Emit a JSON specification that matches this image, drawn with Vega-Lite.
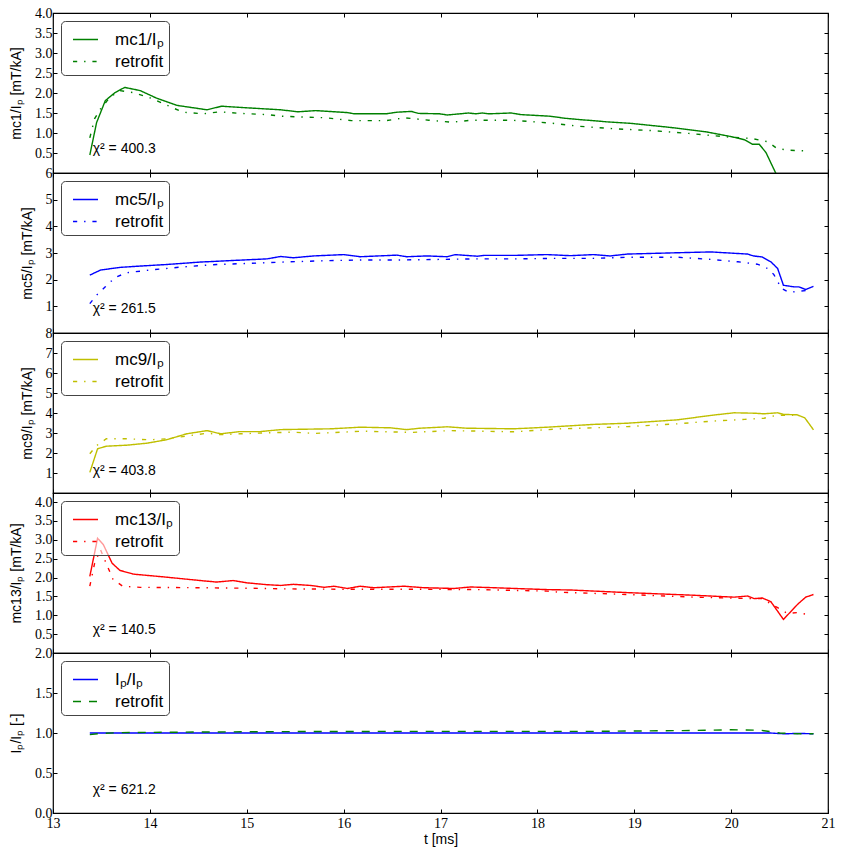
{
  "$schema": "https://vega.github.io/schema/vega-lite/v6.json",
  "background": "white",
  "padding": {"left": 8, "top": 5, "right": 12, "bottom": 10},
  "spacing": 0,
  "bounds": "flush",
  "resolve": {"scale": {"color": "independent", "strokeDash": "independent"}, "legend": {"color": "independent", "strokeDash": "independent"}},
  "config": {
    "view": {"stroke": "#000", "strokeWidth": 1.2},
    "axis": {"domain": false, "grid": false, "tickColor": "#000", "tickWidth": 1, "tickSize": -4, "labelFont": "Liberation Serif", "labelFontSize": 14, "labelColor": "#000", "titleFont": "Liberation Sans", "titleFontSize": 14, "titleFontWeight": "normal", "titleColor": "#000", "labelFlush": false, "labelOverlap": false, "labelPadding": 5, "titlePadding": 11},
    "legend": {"orient": "top-left", "offset": 8, "title": null, "strokeColor": "#444", "fillColor": "rgba(255,255,255,0.6)", "cornerRadius": 4, "padding": 5, "symbolType": "stroke", "symbolSize": 625, "symbolStrokeWidth": 1.4, "symbolOffset": 6, "labelFont": "Liberation Sans", "labelFontSize": 17, "labelColor": "#000", "labelOffset": 16, "rowPadding": 0}
  },
  "vconcat": [
    {
      "width": 775, "height": 160,
      "resolve": {"axis": {"x": "independent", "y": "independent"}},
      "layer": [
        {
          "data": {"values": [
            {"t":13.38,"v":0.45,"s":"mc1/Iₚ"},{"t":13.45,"v":1.26,"s":"mc1/Iₚ"},{"t":13.54,"v":1.81,"s":"mc1/Iₚ"},{"t":13.64,"v":2.01,"s":"mc1/Iₚ"},{"t":13.74,"v":2.14,"s":"mc1/Iₚ"},{"t":13.9,"v":2.06,"s":"mc1/Iₚ"},{"t":14.07,"v":1.87,"s":"mc1/Iₚ"},{"t":14.28,"v":1.69,"s":"mc1/Iₚ"},{"t":14.45,"v":1.63,"s":"mc1/Iₚ"},{"t":14.59,"v":1.58,"s":"mc1/Iₚ"},{"t":14.74,"v":1.67,"s":"mc1/Iₚ"},{"t":14.93,"v":1.64,"s":"mc1/Iₚ"},{"t":15.21,"v":1.6,"s":"mc1/Iₚ"},{"t":15.35,"v":1.58,"s":"mc1/Iₚ"},{"t":15.53,"v":1.53,"s":"mc1/Iₚ"},{"t":15.71,"v":1.56,"s":"mc1/Iₚ"},{"t":16.04,"v":1.51,"s":"mc1/Iₚ"},{"t":16.11,"v":1.48,"s":"mc1/Iₚ"},{"t":16.44,"v":1.48,"s":"mc1/Iₚ"},{"t":16.55,"v":1.52,"s":"mc1/Iₚ"},{"t":16.7,"v":1.54,"s":"mc1/Iₚ"},{"t":16.77,"v":1.49,"s":"mc1/Iₚ"},{"t":16.99,"v":1.48,"s":"mc1/Iₚ"},{"t":17.07,"v":1.45,"s":"mc1/Iₚ"},{"t":17.29,"v":1.5,"s":"mc1/Iₚ"},{"t":17.36,"v":1.48,"s":"mc1/Iₚ"},{"t":17.43,"v":1.5,"s":"mc1/Iₚ"},{"t":17.5,"v":1.48,"s":"mc1/Iₚ"},{"t":17.73,"v":1.5,"s":"mc1/Iₚ"},{"t":17.83,"v":1.46,"s":"mc1/Iₚ"},{"t":18.13,"v":1.42,"s":"mc1/Iₚ"},{"t":18.28,"v":1.37,"s":"mc1/Iₚ"},{"t":18.46,"v":1.33,"s":"mc1/Iₚ"},{"t":18.57,"v":1.31,"s":"mc1/Iₚ"},{"t":18.71,"v":1.28,"s":"mc1/Iₚ"},{"t":18.97,"v":1.24,"s":"mc1/Iₚ"},{"t":19.37,"v":1.14,"s":"mc1/Iₚ"},{"t":19.74,"v":1.03,"s":"mc1/Iₚ"},{"t":20.0,"v":0.91,"s":"mc1/Iₚ"},{"t":20.14,"v":0.83,"s":"mc1/Iₚ"},{"t":20.22,"v":0.72,"s":"mc1/Iₚ"},{"t":20.29,"v":0.72,"s":"mc1/Iₚ"},{"t":20.36,"v":0.51,"s":"mc1/Iₚ"},{"t":20.46,"v":0.0,"s":"mc1/Iₚ"},{"t":20.5,"v":-0.3,"s":"mc1/Iₚ"},
            {"t":13.38,"v":0.88,"s":"retrofit"},{"t":13.43,"v":1.36,"s":"retrofit"},{"t":13.49,"v":1.6,"s":"retrofit"},{"t":13.59,"v":1.9,"s":"retrofit"},{"t":13.69,"v":2.06,"s":"retrofit"},{"t":13.83,"v":2.01,"s":"retrofit"},{"t":14.0,"v":1.88,"s":"retrofit"},{"t":14.18,"v":1.69,"s":"retrofit"},{"t":14.34,"v":1.52,"s":"retrofit"},{"t":14.55,"v":1.48,"s":"retrofit"},{"t":14.72,"v":1.53,"s":"retrofit"},{"t":14.93,"v":1.49,"s":"retrofit"},{"t":15.21,"v":1.46,"s":"retrofit"},{"t":15.35,"v":1.42,"s":"retrofit"},{"t":15.82,"v":1.38,"s":"retrofit"},{"t":16.08,"v":1.31,"s":"retrofit"},{"t":16.44,"v":1.31,"s":"retrofit"},{"t":16.63,"v":1.38,"s":"retrofit"},{"t":16.88,"v":1.32,"s":"retrofit"},{"t":17.12,"v":1.27,"s":"retrofit"},{"t":17.32,"v":1.32,"s":"retrofit"},{"t":17.73,"v":1.32,"s":"retrofit"},{"t":18.13,"v":1.25,"s":"retrofit"},{"t":18.42,"v":1.17,"s":"retrofit"},{"t":18.83,"v":1.1,"s":"retrofit"},{"t":19.19,"v":1.06,"s":"retrofit"},{"t":19.56,"v":0.99,"s":"retrofit"},{"t":19.92,"v":0.91,"s":"retrofit"},{"t":20.22,"v":0.86,"s":"retrofit"},{"t":20.38,"v":0.78,"s":"retrofit"},{"t":20.47,"v":0.62,"s":"retrofit"},{"t":20.58,"v":0.57,"s":"retrofit"},{"t":20.8,"v":0.55,"s":"retrofit"}
          ]},
          "mark": {"type": "line", "strokeWidth": 1.4, "clip": true},
          "encoding": {
            "x": {"field": "t", "type": "quantitative", "scale": {"domain": [13, 21], "nice": false, "zero": false}, "axis": {"orient": "bottom", "values": [13,14,15,16,17,18,19,20,21], "labels": false, "title": null}},
            "y": {"field": "v", "type": "quantitative", "scale": {"domain": [0, 4], "nice": false}, "axis": {"orient": "left", "values": [0.5,1,1.5,2,2.5,3,3.5,4], "format": ".1f", "title": "mc1/Iₚ [mT/kA]"}},
            "color": {"field": "s", "type": "nominal", "scale": {"domain": ["mc1/Iₚ", "retrofit"], "range": ["#008000", "#008000"]}},
            "strokeDash": {"field": "s", "type": "nominal", "scale": {"domain": ["mc1/Iₚ", "retrofit"], "range": [[1, 0], [4.2, 6.9, 1.4, 6.9]]}}
          }
        },
        {
          "data": {"values": [{"t": 13.41, "v": 0.59, "label": "χ² = 400.3"}]},
          "mark": {"type": "text", "align": "left", "baseline": "middle", "font": "Liberation Sans", "fontSize": 14, "color": "#000"},
          "encoding": {
            "x": {"field": "t", "type": "quantitative", "scale": {"domain": [13, 21], "nice": false, "zero": false}, "axis": {"orient": "top", "values": [13,14,15,16,17,18,19,20,21], "labels": false, "title": null}},
            "y": {"field": "v", "type": "quantitative", "scale": {"domain": [0, 4], "nice": false}, "axis": {"orient": "right", "values": [0.5,1,1.5,2,2.5,3,3.5,4], "labels": false, "title": null}},
            "text": {"field": "label"}
          }
        }
      ]
    },
    {
      "width": 775, "height": 160,
      "resolve": {"axis": {"x": "independent", "y": "independent"}},
      "layer": [
        {
          "data": {"values": [
            {"t":13.38,"v":2.17,"s":"mc5/Iₚ"},{"t":13.49,"v":2.36,"s":"mc5/Iₚ"},{"t":13.69,"v":2.46,"s":"mc5/Iₚ"},{"t":13.9,"v":2.51,"s":"mc5/Iₚ"},{"t":14.18,"v":2.57,"s":"mc5/Iₚ"},{"t":14.52,"v":2.66,"s":"mc5/Iₚ"},{"t":14.86,"v":2.72,"s":"mc5/Iₚ"},{"t":15.21,"v":2.78,"s":"mc5/Iₚ"},{"t":15.35,"v":2.87,"s":"mc5/Iₚ"},{"t":15.48,"v":2.82,"s":"mc5/Iₚ"},{"t":15.69,"v":2.89,"s":"mc5/Iₚ"},{"t":16.0,"v":2.94,"s":"mc5/Iₚ"},{"t":16.17,"v":2.86,"s":"mc5/Iₚ"},{"t":16.55,"v":2.92,"s":"mc5/Iₚ"},{"t":16.65,"v":2.86,"s":"mc5/Iₚ"},{"t":16.86,"v":2.89,"s":"mc5/Iₚ"},{"t":17.07,"v":2.86,"s":"mc5/Iₚ"},{"t":17.15,"v":2.94,"s":"mc5/Iₚ"},{"t":17.38,"v":2.88,"s":"mc5/Iₚ"},{"t":17.45,"v":2.91,"s":"mc5/Iₚ"},{"t":17.76,"v":2.91,"s":"mc5/Iₚ"},{"t":18.1,"v":2.94,"s":"mc5/Iₚ"},{"t":18.34,"v":2.9,"s":"mc5/Iₚ"},{"t":18.58,"v":2.94,"s":"mc5/Iₚ"},{"t":18.75,"v":2.89,"s":"mc5/Iₚ"},{"t":18.93,"v":2.96,"s":"mc5/Iₚ"},{"t":19.45,"v":3.01,"s":"mc5/Iₚ"},{"t":19.79,"v":3.04,"s":"mc5/Iₚ"},{"t":20.17,"v":2.96,"s":"mc5/Iₚ"},{"t":20.23,"v":2.89,"s":"mc5/Iₚ"},{"t":20.32,"v":2.85,"s":"mc5/Iₚ"},{"t":20.41,"v":2.67,"s":"mc5/Iₚ"},{"t":20.48,"v":2.42,"s":"mc5/Iₚ"},{"t":20.54,"v":1.79,"s":"mc5/Iₚ"},{"t":20.65,"v":1.73,"s":"mc5/Iₚ"},{"t":20.7,"v":1.73,"s":"mc5/Iₚ"},{"t":20.77,"v":1.63,"s":"mc5/Iₚ"},{"t":20.85,"v":1.75,"s":"mc5/Iₚ"},
            {"t":13.38,"v":1.1,"s":"retrofit"},{"t":13.45,"v":1.42,"s":"retrofit"},{"t":13.54,"v":1.73,"s":"retrofit"},{"t":13.64,"v":2.08,"s":"retrofit"},{"t":13.76,"v":2.26,"s":"retrofit"},{"t":14.0,"v":2.36,"s":"retrofit"},{"t":14.34,"v":2.48,"s":"retrofit"},{"t":14.69,"v":2.57,"s":"retrofit"},{"t":15.03,"v":2.61,"s":"retrofit"},{"t":15.45,"v":2.67,"s":"retrofit"},{"t":15.8,"v":2.71,"s":"retrofit"},{"t":16.2,"v":2.74,"s":"retrofit"},{"t":16.6,"v":2.74,"s":"retrofit"},{"t":17.0,"v":2.76,"s":"retrofit"},{"t":17.4,"v":2.78,"s":"retrofit"},{"t":17.8,"v":2.78,"s":"retrofit"},{"t":18.24,"v":2.8,"s":"retrofit"},{"t":18.58,"v":2.8,"s":"retrofit"},{"t":18.93,"v":2.84,"s":"retrofit"},{"t":19.45,"v":2.84,"s":"retrofit"},{"t":19.79,"v":2.76,"s":"retrofit"},{"t":20.07,"v":2.67,"s":"retrofit"},{"t":20.27,"v":2.58,"s":"retrofit"},{"t":20.36,"v":2.46,"s":"retrofit"},{"t":20.44,"v":2.2,"s":"retrofit"},{"t":20.52,"v":1.67,"s":"retrofit"},{"t":20.6,"v":1.52,"s":"retrofit"},{"t":20.7,"v":1.57,"s":"retrofit"},{"t":20.8,"v":1.6,"s":"retrofit"}
          ]},
          "mark": {"type": "line", "strokeWidth": 1.4, "clip": true},
          "encoding": {
            "x": {"field": "t", "type": "quantitative", "scale": {"domain": [13, 21], "nice": false, "zero": false}, "axis": {"orient": "bottom", "values": [13,14,15,16,17,18,19,20,21], "labels": false, "title": null}},
            "y": {"field": "v", "type": "quantitative", "scale": {"domain": [0, 6], "nice": false}, "axis": {"orient": "left", "values": [1,2,3,4,5,6], "format": "d", "title": "mc5/Iₚ [mT/kA]"}},
            "color": {"field": "s", "type": "nominal", "scale": {"domain": ["mc5/Iₚ", "retrofit"], "range": ["#0000ff", "#0000ff"]}},
            "strokeDash": {"field": "s", "type": "nominal", "scale": {"domain": ["mc5/Iₚ", "retrofit"], "range": [[1, 0], [4.2, 6.9, 1.4, 6.9]]}}
          }
        },
        {
          "data": {"values": [{"t": 13.41, "v": 0.89, "label": "χ² = 261.5"}]},
          "mark": {"type": "text", "align": "left", "baseline": "middle", "font": "Liberation Sans", "fontSize": 14, "color": "#000"},
          "encoding": {
            "x": {"field": "t", "type": "quantitative", "scale": {"domain": [13, 21], "nice": false, "zero": false}, "axis": {"orient": "top", "values": [13,14,15,16,17,18,19,20,21], "labels": false, "title": null}},
            "y": {"field": "v", "type": "quantitative", "scale": {"domain": [0, 6], "nice": false}, "axis": {"orient": "right", "values": [1,2,3,4,5,6], "labels": false, "title": null}},
            "text": {"field": "label"}
          }
        }
      ]
    },
    {
      "width": 775, "height": 160,
      "resolve": {"axis": {"x": "independent", "y": "independent"}},
      "layer": [
        {
          "data": {"values": [
            {"t":13.38,"v":1.03,"s":"mc9/Iₚ"},{"t":13.46,"v":2.21,"s":"mc9/Iₚ"},{"t":13.55,"v":2.34,"s":"mc9/Iₚ"},{"t":13.76,"v":2.39,"s":"mc9/Iₚ"},{"t":13.97,"v":2.49,"s":"mc9/Iₚ"},{"t":14.17,"v":2.66,"s":"mc9/Iₚ"},{"t":14.38,"v":2.96,"s":"mc9/Iₚ"},{"t":14.59,"v":3.12,"s":"mc9/Iₚ"},{"t":14.73,"v":2.96,"s":"mc9/Iₚ"},{"t":14.93,"v":3.07,"s":"mc9/Iₚ"},{"t":15.14,"v":3.07,"s":"mc9/Iₚ"},{"t":15.35,"v":3.17,"s":"mc9/Iₚ"},{"t":15.87,"v":3.21,"s":"mc9/Iₚ"},{"t":16.17,"v":3.29,"s":"mc9/Iₚ"},{"t":16.48,"v":3.26,"s":"mc9/Iₚ"},{"t":16.65,"v":3.17,"s":"mc9/Iₚ"},{"t":16.79,"v":3.24,"s":"mc9/Iₚ"},{"t":17.07,"v":3.31,"s":"mc9/Iₚ"},{"t":17.27,"v":3.24,"s":"mc9/Iₚ"},{"t":17.76,"v":3.21,"s":"mc9/Iₚ"},{"t":18.1,"v":3.29,"s":"mc9/Iₚ"},{"t":18.34,"v":3.36,"s":"mc9/Iₚ"},{"t":18.58,"v":3.43,"s":"mc9/Iₚ"},{"t":18.93,"v":3.49,"s":"mc9/Iₚ"},{"t":19.45,"v":3.66,"s":"mc9/Iₚ"},{"t":19.79,"v":3.88,"s":"mc9/Iₚ"},{"t":20.03,"v":4.01,"s":"mc9/Iₚ"},{"t":20.24,"v":3.99,"s":"mc9/Iₚ"},{"t":20.34,"v":3.96,"s":"mc9/Iₚ"},{"t":20.48,"v":4.01,"s":"mc9/Iₚ"},{"t":20.54,"v":3.93,"s":"mc9/Iₚ"},{"t":20.68,"v":3.91,"s":"mc9/Iₚ"},{"t":20.76,"v":3.76,"s":"mc9/Iₚ"},{"t":20.85,"v":3.16,"s":"mc9/Iₚ"},
            {"t":13.38,"v":1.96,"s":"retrofit"},{"t":13.45,"v":2.37,"s":"retrofit"},{"t":13.55,"v":2.71,"s":"retrofit"},{"t":13.76,"v":2.71,"s":"retrofit"},{"t":14.0,"v":2.66,"s":"retrofit"},{"t":14.17,"v":2.71,"s":"retrofit"},{"t":14.34,"v":2.82,"s":"retrofit"},{"t":14.59,"v":2.99,"s":"retrofit"},{"t":14.73,"v":2.92,"s":"retrofit"},{"t":14.93,"v":2.96,"s":"retrofit"},{"t":15.21,"v":3.01,"s":"retrofit"},{"t":15.48,"v":3.04,"s":"retrofit"},{"t":15.7,"v":2.98,"s":"retrofit"},{"t":16.2,"v":3.09,"s":"retrofit"},{"t":16.7,"v":3.03,"s":"retrofit"},{"t":17.1,"v":3.12,"s":"retrofit"},{"t":17.76,"v":3.06,"s":"retrofit"},{"t":18.24,"v":3.21,"s":"retrofit"},{"t":18.58,"v":3.26,"s":"retrofit"},{"t":18.93,"v":3.32,"s":"retrofit"},{"t":19.45,"v":3.46,"s":"retrofit"},{"t":19.79,"v":3.59,"s":"retrofit"},{"t":20.14,"v":3.68,"s":"retrofit"},{"t":20.34,"v":3.74,"s":"retrofit"},{"t":20.42,"v":3.84,"s":"retrofit"},{"t":20.52,"v":3.89,"s":"retrofit"},{"t":20.64,"v":3.89,"s":"retrofit"}
          ]},
          "mark": {"type": "line", "strokeWidth": 1.4, "clip": true},
          "encoding": {
            "x": {"field": "t", "type": "quantitative", "scale": {"domain": [13, 21], "nice": false, "zero": false}, "axis": {"orient": "bottom", "values": [13,14,15,16,17,18,19,20,21], "labels": false, "title": null}},
            "y": {"field": "v", "type": "quantitative", "scale": {"domain": [0, 8], "nice": false}, "axis": {"orient": "left", "values": [1,2,3,4,5,6,7,8], "format": "d", "title": "mc9/Iₚ [mT/kA]"}},
            "color": {"field": "s", "type": "nominal", "scale": {"domain": ["mc9/Iₚ", "retrofit"], "range": ["#bfbf00", "#bfbf00"]}},
            "strokeDash": {"field": "s", "type": "nominal", "scale": {"domain": ["mc9/Iₚ", "retrofit"], "range": [[1, 0], [4.2, 6.9, 1.4, 6.9]]}}
          }
        },
        {
          "data": {"values": [{"t": 13.41, "v": 1.12, "label": "χ² = 403.8"}]},
          "mark": {"type": "text", "align": "left", "baseline": "middle", "font": "Liberation Sans", "fontSize": 14, "color": "#000"},
          "encoding": {
            "x": {"field": "t", "type": "quantitative", "scale": {"domain": [13, 21], "nice": false, "zero": false}, "axis": {"orient": "top", "values": [13,14,15,16,17,18,19,20,21], "labels": false, "title": null}},
            "y": {"field": "v", "type": "quantitative", "scale": {"domain": [0, 8], "nice": false}, "axis": {"orient": "right", "values": [1,2,3,4,5,6,7,8], "labels": false, "title": null}},
            "text": {"field": "label"}
          }
        }
      ]
    },
    {
      "width": 775, "height": 160,
      "resolve": {"axis": {"x": "independent", "y": "independent"}},
      "layer": [
        {
          "data": {"values": [
            {"t":13.38,"v":2.03,"s":"mc13/Iₚ"},{"t":13.46,"v":3.04,"s":"mc13/Iₚ"},{"t":13.52,"v":2.87,"s":"mc13/Iₚ"},{"t":13.61,"v":2.38,"s":"mc13/Iₚ"},{"t":13.69,"v":2.19,"s":"mc13/Iₚ"},{"t":13.83,"v":2.09,"s":"mc13/Iₚ"},{"t":14.17,"v":2.01,"s":"mc13/Iₚ"},{"t":14.52,"v":1.92,"s":"mc13/Iₚ"},{"t":14.69,"v":1.88,"s":"mc13/Iₚ"},{"t":14.86,"v":1.92,"s":"mc13/Iₚ"},{"t":15.0,"v":1.86,"s":"mc13/Iₚ"},{"t":15.21,"v":1.81,"s":"mc13/Iₚ"},{"t":15.35,"v":1.79,"s":"mc13/Iₚ"},{"t":15.48,"v":1.82,"s":"mc13/Iₚ"},{"t":15.66,"v":1.79,"s":"mc13/Iₚ"},{"t":15.8,"v":1.74,"s":"mc13/Iₚ"},{"t":15.9,"v":1.77,"s":"mc13/Iₚ"},{"t":16.04,"v":1.71,"s":"mc13/Iₚ"},{"t":16.17,"v":1.77,"s":"mc13/Iₚ"},{"t":16.31,"v":1.73,"s":"mc13/Iₚ"},{"t":16.62,"v":1.77,"s":"mc13/Iₚ"},{"t":16.83,"v":1.73,"s":"mc13/Iₚ"},{"t":17.14,"v":1.71,"s":"mc13/Iₚ"},{"t":17.31,"v":1.75,"s":"mc13/Iₚ"},{"t":17.55,"v":1.73,"s":"mc13/Iₚ"},{"t":18.1,"v":1.68,"s":"mc13/Iₚ"},{"t":18.34,"v":1.67,"s":"mc13/Iₚ"},{"t":18.93,"v":1.6,"s":"mc13/Iₚ"},{"t":19.62,"v":1.53,"s":"mc13/Iₚ"},{"t":20.03,"v":1.48,"s":"mc13/Iₚ"},{"t":20.17,"v":1.51,"s":"mc13/Iₚ"},{"t":20.24,"v":1.44,"s":"mc13/Iₚ"},{"t":20.32,"v":1.46,"s":"mc13/Iₚ"},{"t":20.41,"v":1.36,"s":"mc13/Iₚ"},{"t":20.54,"v":0.89,"s":"mc13/Iₚ"},{"t":20.69,"v":1.3,"s":"mc13/Iₚ"},{"t":20.77,"v":1.48,"s":"mc13/Iₚ"},{"t":20.85,"v":1.55,"s":"mc13/Iₚ"},
            {"t":13.38,"v":1.77,"s":"retrofit"},{"t":13.43,"v":2.38,"s":"retrofit"},{"t":13.49,"v":2.74,"s":"retrofit"},{"t":13.54,"v":2.43,"s":"retrofit"},{"t":13.62,"v":1.95,"s":"retrofit"},{"t":13.72,"v":1.77,"s":"retrofit"},{"t":13.9,"v":1.74,"s":"retrofit"},{"t":14.52,"v":1.73,"s":"retrofit"},{"t":15.21,"v":1.71,"s":"retrofit"},{"t":15.35,"v":1.7,"s":"retrofit"},{"t":16.0,"v":1.69,"s":"retrofit"},{"t":16.7,"v":1.69,"s":"retrofit"},{"t":17.4,"v":1.68,"s":"retrofit"},{"t":18.1,"v":1.64,"s":"retrofit"},{"t":18.24,"v":1.61,"s":"retrofit"},{"t":18.93,"v":1.55,"s":"retrofit"},{"t":19.62,"v":1.48,"s":"retrofit"},{"t":20.07,"v":1.45,"s":"retrofit"},{"t":20.32,"v":1.44,"s":"retrofit"},{"t":20.48,"v":1.2,"s":"retrofit"},{"t":20.58,"v":1.05,"s":"retrofit"},{"t":20.68,"v":1.07,"s":"retrofit"},{"t":20.77,"v":1.03,"s":"retrofit"}
          ]},
          "mark": {"type": "line", "strokeWidth": 1.4, "clip": true},
          "encoding": {
            "x": {"field": "t", "type": "quantitative", "scale": {"domain": [13, 21], "nice": false, "zero": false}, "axis": {"orient": "bottom", "values": [13,14,15,16,17,18,19,20,21], "labels": false, "title": null}},
            "y": {"field": "v", "type": "quantitative", "scale": {"domain": [0, 4.24], "nice": false}, "axis": {"orient": "left", "values": [0.5,1,1.5,2,2.5,3,3.5,4], "format": ".1f", "title": "mc13/Iₚ [mT/kA]"}},
            "color": {"field": "s", "type": "nominal", "scale": {"domain": ["mc13/Iₚ", "retrofit"], "range": ["#ff0000", "#ff0000"]}},
            "strokeDash": {"field": "s", "type": "nominal", "scale": {"domain": ["mc13/Iₚ", "retrofit"], "range": [[1, 0], [4.2, 6.9, 1.4, 6.9]]}}
          }
        },
        {
          "data": {"values": [{"t": 13.41, "v": 0.61, "label": "χ² = 140.5"}]},
          "mark": {"type": "text", "align": "left", "baseline": "middle", "font": "Liberation Sans", "fontSize": 14, "color": "#000"},
          "encoding": {
            "x": {"field": "t", "type": "quantitative", "scale": {"domain": [13, 21], "nice": false, "zero": false}, "axis": {"orient": "top", "values": [13,14,15,16,17,18,19,20,21], "labels": false, "title": null}},
            "y": {"field": "v", "type": "quantitative", "scale": {"domain": [0, 4.24], "nice": false}, "axis": {"orient": "right", "values": [0.5,1,1.5,2,2.5,3,3.5,4], "labels": false, "title": null}},
            "text": {"field": "label"}
          }
        }
      ]
    },
    {
      "width": 775, "height": 160,
      "resolve": {"axis": {"x": "independent", "y": "independent"}},
      "layer": [
        {
          "data": {"values": [
            {"t":13.38,"v":1.0,"s":"Iₚ/Iₚ"},{"t":14,"v":1.0,"s":"Iₚ/Iₚ"},{"t":15,"v":1.0,"s":"Iₚ/Iₚ"},{"t":16,"v":1.0,"s":"Iₚ/Iₚ"},{"t":17,"v":1.0,"s":"Iₚ/Iₚ"},{"t":18,"v":1.0,"s":"Iₚ/Iₚ"},{"t":19,"v":1.0,"s":"Iₚ/Iₚ"},{"t":20,"v":1.0,"s":"Iₚ/Iₚ"},{"t":20.4,"v":1.0,"s":"Iₚ/Iₚ"},{"t":20.55,"v":0.99,"s":"Iₚ/Iₚ"},{"t":20.7,"v":0.995,"s":"Iₚ/Iₚ"},{"t":20.85,"v":0.99,"s":"Iₚ/Iₚ"},
            {"t":13.38,"v":0.98,"s":"retrofit"},{"t":13.5,"v":0.995,"s":"retrofit"},{"t":13.7,"v":1.005,"s":"retrofit"},{"t":14.5,"v":1.012,"s":"retrofit"},{"t":15.5,"v":1.018,"s":"retrofit"},{"t":16.5,"v":1.02,"s":"retrofit"},{"t":17.5,"v":1.02,"s":"retrofit"},{"t":18.5,"v":1.02,"s":"retrofit"},{"t":19.5,"v":1.03,"s":"retrofit"},{"t":20.0,"v":1.04,"s":"retrofit"},{"t":20.3,"v":1.035,"s":"retrofit"},{"t":20.5,"v":1.0,"s":"retrofit"},{"t":20.7,"v":0.99,"s":"retrofit"},{"t":20.85,"v":0.99,"s":"retrofit"}
          ]},
          "mark": {"type": "line", "strokeWidth": 1.4, "clip": true},
          "encoding": {
            "x": {"field": "t", "type": "quantitative", "scale": {"domain": [13, 21], "nice": false, "zero": false}, "axis": {"orient": "bottom", "values": [13,14,15,16,17,18,19,20,21], "format": "d", "labelPadding": 7, "title": "t [ms]", "titlePadding": 2}},
            "y": {"field": "v", "type": "quantitative", "scale": {"domain": [0, 2], "nice": false}, "axis": {"orient": "left", "values": [0,0.5,1,1.5,2], "format": ".1f", "title": "Iₚ/Iₚ [-]"}},
            "color": {"field": "s", "type": "nominal", "scale": {"domain": ["Iₚ/Iₚ", "retrofit"], "range": ["#0000ff", "#008000"]}},
            "strokeDash": {"field": "s", "type": "nominal", "scale": {"domain": ["Iₚ/Iₚ", "retrofit"], "range": [[1, 0], [8, 8]]}}
          }
        },
        {
          "data": {"values": [{"t": 13.41, "v": 0.29, "label": "χ² = 621.2"}]},
          "mark": {"type": "text", "align": "left", "baseline": "middle", "font": "Liberation Sans", "fontSize": 14, "color": "#000"},
          "encoding": {
            "x": {"field": "t", "type": "quantitative", "scale": {"domain": [13, 21], "nice": false, "zero": false}, "axis": {"orient": "top", "values": [13,14,15,16,17,18,19,20,21], "labels": false, "title": null}},
            "y": {"field": "v", "type": "quantitative", "scale": {"domain": [0, 2], "nice": false}, "axis": {"orient": "right", "values": [0,0.5,1,1.5,2], "labels": false, "title": null}},
            "text": {"field": "label"}
          }
        }
      ]
    }
  ]
}
